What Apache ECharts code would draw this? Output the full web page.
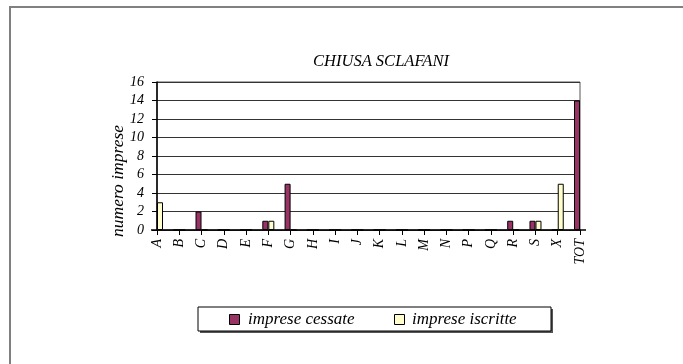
<!DOCTYPE html>
<html><head><meta charset="utf-8">
<script src="https://cdn.jsdelivr.net/npm/echarts@6/dist/echarts.min.js"></script>
<style>html,body{margin:0;padding:0;background:#fff}#c{width:683px;height:364px}</style>
</head><body><div id="c"></div>
<script>
const categories = ['A','B','C','D','E','F','G','H','I','J','K','L','M','N','P','Q','R','S','X','TOT'];
const cessate =   [0,0,2,0,0,1,5,0,0,0,0,0,0,0,0,0,1,1,0,14];
const iscritte =  [3,0,0,0,0,1,0,0,0,0,0,0,0,0,0,0,0,1,5,0];
const yTicks = [0,2,4,6,8,10,12,14,16];
const FONT = '"Liberation Serif","Times New Roman",serif';
const chart = echarts.init(document.getElementById('c'));
chart.setOption({
  animation:false,
  title:{text:'CHIUSA SCLAFANI',left:376,top:48,textAlign:'center',
    textStyle:{fontFamily:FONT,fontStyle:'italic',fontWeight:'normal',fontSize:16.5,color:'#000'}},
  legend:{show:false},
  graphic:[
    {type:'rect',shape:{x:10,y:7,width:700,height:400},style:{fill:'none',stroke:'#808080',lineWidth:2},z:-1},
    {type:'text',x:118,y:181,rotation:Math.PI/2,
      style:{x:0,y:0,text:'numero imprese',font:'italic 17.5px '+FONT,fill:'#000',textAlign:'center',textVerticalAlign:'middle'}},
    {type:'rect',shape:{x:200,y:309,width:353,height:24},style:{fill:'#555',stroke:null}},
    {type:'rect',shape:{x:198,y:307,width:353,height:24},style:{fill:'#fff',stroke:'#000',lineWidth:1}},
    {type:'rect',shape:{x:229.5,y:314.5,width:10,height:10},style:{fill:'#993366',stroke:'#000',lineWidth:1}},
    {type:'text',style:{x:248,y:320,text:'imprese cessate',font:'italic 17px '+FONT,fill:'#000',textVerticalAlign:'middle'}},
    {type:'rect',shape:{x:394.5,y:314.5,width:10,height:10},style:{fill:'#FFFFCC',stroke:'#000',lineWidth:1}},
    {type:'text',style:{x:412,y:320,text:'imprese iscritte',font:'italic 17px '+FONT,fill:'#000',textVerticalAlign:'middle'}}
  ],
  grid:{left:157,right:103,top:82,bottom:134,show:true,borderColor:'#555',borderWidth:1,backgroundColor:'transparent'},
  xAxis:{type:'category',data:categories,boundaryGap:false,
    axisLine:{lineStyle:{color:'#000',width:1.5}},
    axisTick:{show:true,length:5,lineStyle:{color:'#000'}},
    axisLabel:{rotate:90,interval:0,margin:9,fontFamily:FONT,fontStyle:'italic',fontSize:14,color:'#000'},
    splitLine:{show:false}},
  yAxis:{type:'value',min:0,max:16,interval:2,
    axisLine:{show:true,lineStyle:{color:'#000',width:1.5}},
    axisTick:{show:true,length:5,lineStyle:{color:'#000'}},
    axisLabel:{margin:13,fontFamily:FONT,fontStyle:'italic',fontSize:14,color:'#000',
      formatter:v=>yTicks.includes(v)?String(v):''},
    splitLine:{show:true,lineStyle:{color:'#333',width:1}}},
  series:[
    {name:'imprese cessate',type:'bar',data:cessate,barWidth:6,barGap:'0%',
      itemStyle:{color:'#993366',borderColor:'#000',borderWidth:1}},
    {name:'imprese iscritte',type:'bar',data:iscritte,barWidth:6,barGap:'0%',
      itemStyle:{color:'#FFFFCC',borderColor:'#000',borderWidth:1}}
  ]
});
</script></body></html>
